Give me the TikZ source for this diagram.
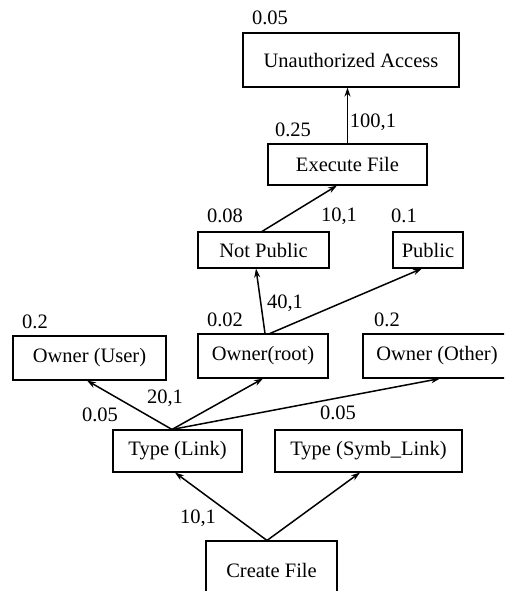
\documentclass[tikz,border=0pt]{standalone}
\usepackage{fontspec}
\setmainfont{Liberation Serif}
\newfontfamily\labelfont{Liberation Serif}
\usetikzlibrary{arrows.meta}
\begin{document}
\begin{tikzpicture}[x=1pt,y=-1pt,
  every node/.style={font=\labelfont\fontsize{20.5}{24}\selectfont, inner sep=0pt},
  state/.style={draw, line width=1.1pt, rectangle, anchor=center},
  val/.style={anchor=center},
  edge/.style={line width=1.5pt, -{Stealth[length=9pt,width=6pt]}}]
\useasboundingbox (0,0) rectangle (504,591);
\clip (0,0) rectangle (504,591);

% states
\node[state, minimum width=216pt, minimum height=54pt] (ua)  at (351,60)    {Unauthorized Access};
\node[state, minimum width=159pt, minimum height=41pt] (ef)  at (347.5,164.5) {Execute File};
\node[state, minimum width=131pt, minimum height=36pt] (np)  at (263.5,250) {Not Public};
\node[state, minimum width=70pt,  minimum height=36pt] (pub) at (428,250)   {Public};
\node[state, minimum width=153pt, minimum height=44pt] (ou)  at (89.5,358)  {Owner (User)};
\node[state, minimum width=130pt, minimum height=44pt] (ort) at (263,356)   {Owner(root)};
\node[state, minimum width=148pt, minimum height=44pt] (oo)  at (437,356)   {Owner (Other)};
\node[state, minimum width=129pt, minimum height=42pt] (tl)  at (177.5,451) {Type (Link)};
\node[state, minimum width=187pt, minimum height=42pt] (ts)  at (368.5,451) {Type (Symb\_Link)};
\node[state, minimum width=131pt, minimum height=59pt] (cf)  at (271.5,570.5) {Create File};

% transitions
\draw[edge] (ef.north) -- (ef.north |- ua.south);
\draw[edge] ([xshift=-1.5pt]np.north) -- ([xshift=-10.5pt]ef.south);
\draw[edge] ([xshift=2pt]ort.north) -- ([xshift=-7.5pt]np.south);
\draw[edge] ([xshift=7pt]ort.north) -- ([xshift=-6pt]pub.south);
\draw[edge] ([xshift=-5.5pt]tl.north) -- ([xshift=-2.5pt]ou.south);
\draw[edge] ([xshift=-5.5pt]tl.north) -- (ort.south);
\draw[edge] ([xshift=-5.5pt]tl.north) -- ([xshift=3pt]oo.south);
\draw[edge] ([xshift=-4.5pt]cf.north) -- ([xshift=-2.5pt]tl.south);
\draw[edge] ([xshift=-4.5pt]cf.north) -- ([xshift=-8.5pt]ts.south);

% probabilities and costs
\node[val] (pua) at (270,18)  {0.05};
\node[val] (pef) at (293,130) {0.25};
\node[val] (c1)  at (373,122) {100,1};
\node[val] (pnp) at (225,216) {0.08};
\node[val] (c2)  at (339,216) {10,1};
\node[val] (ppb) at (404,216) {0.1};
\node[val] (c3)  at (285,303) {40,1};
\node[val] (por) at (225,320) {0.02};
\node[val] (poo) at (387,320) {0.2};
\node[val] (pou) at (35,322)  {0.2};
\node[val] (ptl) at (100,415) {0.05};
\node[val] (c4)  at (165,398) {20,1};
\node[val] (pts) at (338,413) {0.05};
\node[val] (c5)  at (198,518) {10,1};
\end{tikzpicture}
\end{document}
